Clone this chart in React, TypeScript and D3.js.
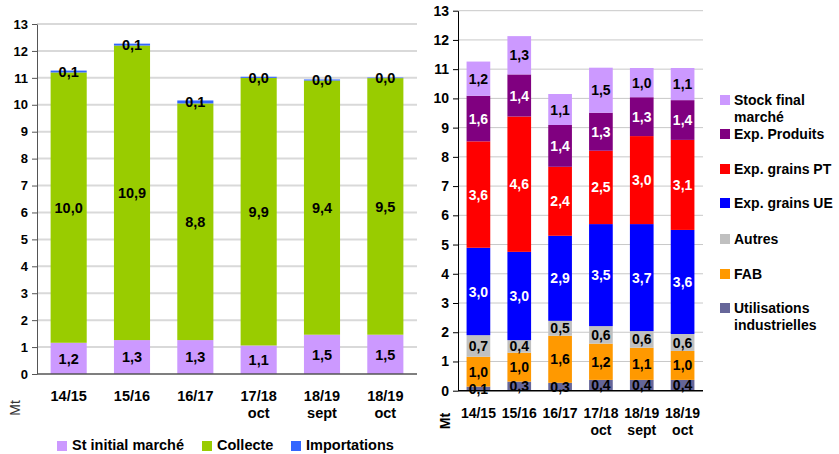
import React, { useEffect, useRef } from 'react';
import * as d3 from 'd3';

const campaigns = ['14/15', '15/16', '16/17', '17/18\noct', '18/19\nsept', '18/19\noct'];

// ressources (gauche)
const stInitial = [1.16, 1.26, 1.26, 1.06, 1.46, 1.46];
const collecte = [10.04, 10.94, 8.79, 9.94, 9.44, 9.53];
const importations = [0.07, 0.07, 0.11, 0.04, 0.04, 0.02];

// emplois (droite), du bas vers le haut
const utilIndus = [0.14, 0.31, 0.27, 0.37, 0.37, 0.37];
const fab = [1.02, 0.99, 1.61, 1.24, 1.1, 0.99];
const autres = [0.74, 0.43, 0.51, 0.6, 0.57, 0.58];
const expUE = [2.99, 3.02, 2.91, 3.49, 3.66, 3.56];
const expPT = [3.64, 4.63, 2.36, 2.51, 3.01, 3.08];
const expProduits = [1.56, 1.44, 1.43, 1.3, 1.33, 1.36];
const stockFinal = [1.17, 1.31, 1.06, 1.54, 1.0, 1.1];

const yTicks = d3.range(0, 14);

interface Serie {
  name: string[];
  values: number[];
  color: string;
  text: string;
}

const leftSeries: Serie[] = [
  { name: ['St initial marché'], values: stInitial, color: '#CC99FF', text: '#000' },
  { name: ['Collecte'], values: collecte, color: '#99CC00', text: '#000' },
  { name: ['Importations'], values: importations, color: '#3366FF', text: '#000' },
];

const rightSeries: Serie[] = [
  { name: ['Utilisations', 'industrielles'], values: utilIndus, color: '#666699', text: '#000' },
  { name: ['FAB'], values: fab, color: '#FF9900', text: '#000' },
  { name: ['Autres'], values: autres, color: '#C0C0C0', text: '#000' },
  { name: ['Exp. grains UE'], values: expUE, color: '#0000FF', text: '#fff' },
  { name: ['Exp. grains PT'], values: expPT, color: '#FF0000', text: '#fff' },
  { name: ['Exp. Produits'], values: expProduits, color: '#800080', text: '#fff' },
  { name: ['Stock final', 'marché'], values: stockFinal, color: '#CC99FF', text: '#000' },
];

const fmt = (v: number) => (Math.round(v * 10) / 10).toFixed(1).replace('.', ',');
const FONT = 'Liberation Sans, Arial, sans-serif';

type Svg = d3.Selection<SVGSVGElement, unknown, null, undefined>;

function drawStack(
  svg: Svg,
  series: Serie[],
  opts: {
    left: number;
    right: number;
    top: number;
    bottom: number;
    padding: number;
    tickSize: number;
    labelSize: number;
    xSize: number;
    gridColor: string;
    gridWidth: number;
    axisColor: string;
  }
) {
  const x = d3.scaleBand().domain(campaigns).range([opts.left, opts.right]).paddingInner(opts.padding).paddingOuter(opts.padding / 2);
  const y = d3.scaleLinear().domain([0, 13]).range([opts.bottom, opts.top]);

  const g = svg.append('g');

  g.selectAll('line.grid')
    .data(yTicks.filter((t) => t > 0))
    .enter()
    .append('line')
    .attr('x1', opts.left)
    .attr('x2', opts.right)
    .attr('y1', (d) => y(d))
    .attr('y2', (d) => y(d))
    .attr('stroke', opts.gridColor)
    .attr('stroke-width', opts.gridWidth);

  const rows = campaigns.map((c, i) => {
    const r: Record<string, number | string> = { c };
    series.forEach((s, k) => (r['s' + k] = s.values[i]));
    return r;
  });
  const stacked = d3.stack<Record<string, number | string>>().keys(series.map((_, k) => 's' + k))(rows as any);

  stacked.forEach((layer, k) => {
    const s = series[k];
    g.selectAll(null)
      .data(layer)
      .enter()
      .append('rect')
      .attr('x', (d) => x(d.data.c as string) as number)
      .attr('y', (d) => y(d[1]))
      .attr('width', x.bandwidth())
      .attr('height', (d) => y(d[0]) - y(d[1]))
      .attr('fill', s.color);
  });

  stacked.forEach((layer, k) => {
    const s = series[k];
    g.selectAll(null)
      .data(layer)
      .enter()
      .append('text')
      .attr('x', (d) => (x(d.data.c as string) as number) + x.bandwidth() / 2)
      .attr('y', (d) => (y(d[0]) + y(d[1])) / 2)
      .attr('dy', '0.36em')
      .attr('text-anchor', 'middle')
      .attr('font-family', FONT)
      .attr('font-weight', 'bold')
      .attr('font-size', opts.labelSize)
      .attr('fill', s.text)
      .text((d) => fmt(d[1] - d[0]));
  });

  // axe Y
  const yAxis = d3.axisLeft(y).tickValues(yTicks).tickSize(5).tickSizeOuter(0).tickPadding(4);
  const ya = g.append('g').attr('transform', `translate(${opts.left},0)`).call(yAxis);
  ya.select('.domain').attr('stroke', opts.axisColor);
  ya.selectAll('line').attr('stroke', opts.axisColor);
  ya.selectAll('text')
    .attr('font-family', FONT)
    .attr('font-weight', 'bold')
    .attr('font-size', opts.tickSize)
    .attr('fill', '#000');

  g.append('line')
    .attr('x1', opts.left)
    .attr('x2', opts.right)
    .attr('y1', opts.bottom)
    .attr('y2', opts.bottom)
    .attr('stroke', opts.axisColor)
    .attr('stroke-width', 1.5);

  // étiquettes X
  campaigns.forEach((c) => {
    const t = g
      .append('text')
      .attr('x', (x(c) as number) + x.bandwidth() / 2)
      .attr('y', opts.bottom + 27)
      .attr('text-anchor', 'middle')
      .attr('font-family', FONT)
      .attr('font-weight', 'bold')
      .attr('font-size', opts.xSize)
      .attr('fill', '#000');
    c.split('\n').forEach((line, i) => {
      t.append('tspan')
        .attr('x', (x(c) as number) + x.bandwidth() / 2)
        .attr('dy', i === 0 ? 0 : opts.xSize * 1.2)
        .text(line);
    });
  });
}

export default function App() {
  const ref = useRef<SVGSVGElement>(null);

  useEffect(() => {
    const svg = d3.select(ref.current as SVGSVGElement);
    svg.selectAll('*').remove();

    drawStack(svg, leftSeries, {
      left: 37,
      right: 417,
      top: 24,
      bottom: 374,
      padding: 0.43,
      tickSize: 13,
      labelSize: 14.5,
      xSize: 14.5,
      gridColor: '#D9D9D9',
      gridWidth: 2,
      axisColor: '#555',
    });

    drawStack(svg, rightSeries, {
      left: 458,
      right: 703,
      top: 10.7,
      bottom: 390.7,
      padding: 0.42,
      tickSize: 14,
      labelSize: 14,
      xSize: 14,
      gridColor: '#C8C8C8',
      gridWidth: 1,
      axisColor: '#000',
    });

    // "Mt"
    svg
      .append('text')
      .attr('transform', 'translate(20,408) rotate(-90)')
      .attr('text-anchor', 'middle')
      .attr('font-family', FONT)
      .attr('font-size', 14)
      .attr('fill', '#333')
      .text('Mt');
    svg
      .append('text')
      .attr('transform', 'translate(450,421) rotate(-90)')
      .attr('text-anchor', 'middle')
      .attr('font-family', FONT)
      .attr('font-weight', 'bold')
      .attr('font-size', 14)
      .attr('fill', '#000')
      .text('Mt');

    // légende gauche
    const leftLegX = [57, 202, 291];
    leftSeries.forEach((s, i) => {
      svg.append('rect').attr('x', leftLegX[i]).attr('y', 441).attr('width', 10).attr('height', 10).attr('fill', s.color);
      svg
        .append('text')
        .attr('x', leftLegX[i] + 15)
        .attr('y', 450)
        .attr('font-family', FONT)
        .attr('font-weight', 'bold')
        .attr('font-size', 14.5)
        .attr('fill', '#000')
        .text(s.name[0]);
    });

    // légende droite
    const legY = [104, 138, 173, 207, 243, 278, 312];
    const rightLeg = [...rightSeries].reverse();
    rightLeg.forEach((s, i) => {
      svg.append('rect').attr('x', 720).attr('y', legY[i] - 9).attr('width', 10).attr('height', 10).attr('fill', s.color);
      const t = svg
        .append('text')
        .attr('x', 734)
        .attr('y', legY[i])
        .attr('dy', '0.1em')
        .attr('font-family', FONT)
        .attr('font-weight', 'bold')
        .attr('font-size', 14)
        .attr('fill', '#000');
      s.name.forEach((line, k) => {
        t.append('tspan').attr('x', 734).attr('dy', k === 0 ? '0.1em' : 17).text(line);
      });
    });
  }, []);

  return (
    <svg
      ref={ref}
      width={839}
      height={454}
      style={{ position: 'absolute', left: 0, top: 0, background: '#fff' }}
    />
  );
}
